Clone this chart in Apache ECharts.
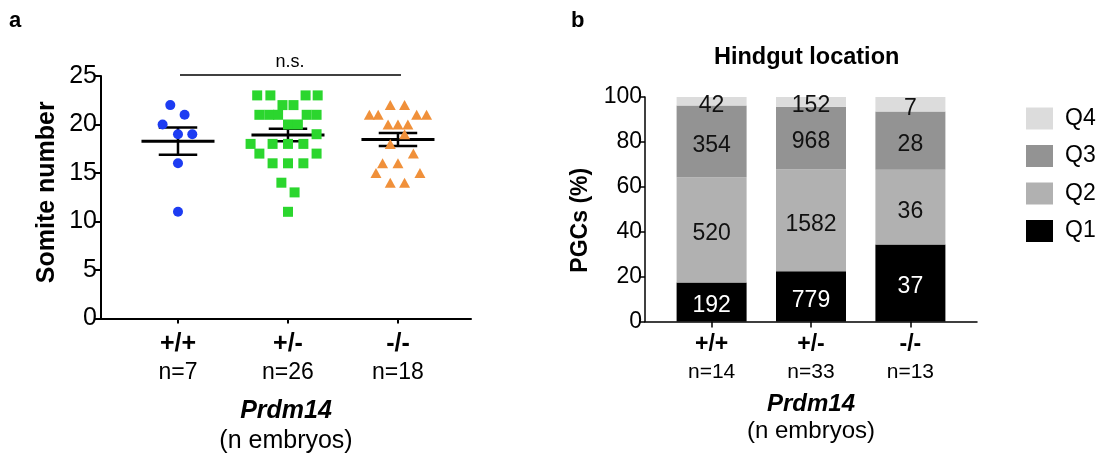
<!DOCTYPE html>
<html>
<head>
<meta charset="utf-8">
<script src="https://cdn.jsdelivr.net/npm/echarts@6/dist/echarts.min.js"></script>
<style>
html,body{margin:0;padding:0;background:#fff;}
#chart{width:1105px;height:459px;}
</style>
</head>
<body>
<div id="chart"></div>
<script>
// ---------- data ----------
const genotypes = ['+/+', '+/-', '-/-'];
const somiteEmbryoN = [7, 26, 18];
const pgcEmbryoN = [14, 33, 13];

// Panel a: somite numbers per embryo, with horizontal jitter (in category units)
const wtSomites  = [22, 21, 20, 19, 19, 16, 11];
const wtJitter   = [-0.07, 0.06, -0.14, 0, 0.13, 0, 0];
const hetSomites = [23, 23, 23, 23, 22, 22, 21, 21, 21, 21, 21, 20, 20, 19, 18, 18, 18, 18, 17, 17, 16, 16, 16, 14, 13, 11];
const hetJitter  = [-0.28, -0.16, 0.16, 0.27, -0.05, 0.05, -0.26, -0.17, -0.09, 0.17, 0.26, 0, 0.09, 0.26, -0.34, -0.14, 0, 0.14, -0.26, 0.26, -0.14, 0, 0.14, -0.06, 0.06, 0];
const koSomites  = [22, 22, 21, 21, 21, 21, 20, 20, 20, 19, 18, 17, 16, 16, 15, 15, 14, 14];
const koJitter   = [-0.07, 0.06, -0.26, -0.18, 0.17, 0.26, -0.09, 0, 0.09, 0.06, -0.07, 0.14, -0.14, 0, -0.2, 0.2, -0.07, 0.06];

// Panel b: PGC counts per hindgut quarter
const q1Counts = [192, 779, 37];
const q2Counts = [520, 1582, 36];
const q3Counts = [354, 968, 28];
const q4Counts = [42, 152, 7];

const quarterNames = ['Q1', 'Q2', 'Q3', 'Q4'];
const quarterColors = ['#000000', '#b1b1b1', '#939393', '#dcdcdc'];
const quarterLabelColors = ['#ffffff', '#111111', '#111111', '#111111'];

// ---------- helpers ----------
const FONT = "'Liberation Sans', Arial, Helvetica, sans-serif";
function toPoints(vals, jit, pos) { return vals.map((v, i) => [pos + jit[i], v]); }
function meanSem(vals) {
  const n = vals.length;
  const m = vals.reduce((a, b) => a + b, 0) / n;
  const sd = Math.sqrt(vals.reduce((a, b) => a + (b - m) * (b - m), 0) / (n - 1));
  return [m, sd / Math.sqrt(n)];
}
const groups = [wtSomites, hetSomites, koSomites];
const statData = groups.map((g, i) => { const s = meanSem(g); return [i + 1, s[0], s[1]]; });

const allCounts = [q1Counts, q2Counts, q3Counts, q4Counts];
const totals = genotypes.map((_, i) => allCounts.reduce((a, c) => a + c[i], 0));
// stacked percentages: [x, bottom%, top%, count]
const stacked = allCounts.map((counts, k) => counts.map((c, i) => {
  let below = 0;
  for (let j = 0; j < k; j++) below += allCounts[j][i];
  return [i + 1, below / totals[i] * 100, (below + c) / totals[i] * 100, c];
}));

const chart = echarts.init(document.getElementById('chart'), null, {renderer: 'canvas'});

const barSeries = quarterNames.map((q, k) => ({
  name: q,
  type: 'custom',
  xAxisIndex: 1, yAxisIndex: 1,
  itemStyle: {color: quarterColors[k]},
  data: stacked[k],
  renderItem: (params, api) => {
    const x = api.value(0);
    const b = api.coord([x, api.value(1)]);
    const t = api.coord([x, api.value(2)]);
    const hw = 35;
    return {type: 'group', children: [
      {type: 'rect', z2: 1, shape: {x: b[0] - hw, y: t[1], width: hw * 2, height: b[1] - t[1]}, style: {fill: quarterColors[k]}},
      {type: 'text', z2: 100, x: b[0], y: (b[1] + t[1]) / 2 + 4,
        style: {text: String(api.value(3)), fill: quarterLabelColors[k], fontSize: 23, fontFamily: FONT, textAlign: 'center', textVerticalAlign: 'middle'}}
    ]};
  }
}));

const option = {
  animation: false,
  backgroundColor: '#ffffff',
  textStyle: {fontFamily: FONT},
  title: [
    {text: 'a', left: 9, top: 10, padding: 0, textStyle: {fontSize: 22, fontWeight: 'bold', color: '#000', fontFamily: FONT}},
    {text: 'b', left: 571, top: 10, padding: 0, textStyle: {fontSize: 22, fontWeight: 'bold', color: '#000', fontFamily: FONT}},
    {text: 'Hindgut location', left: 714, top: 46, padding: 0, textStyle: {fontSize: 23.5, fontWeight: 'bold', color: '#000', fontFamily: FONT}}
  ],
  legend: {
    data: ['Q4', 'Q3', 'Q2', 'Q1'],
    orient: 'vertical',
    left: 1026, top: 107,
    padding: 0,
    itemWidth: 27, itemHeight: 22, itemGap: 14.5,
    icon: 'rect',
    selectedMode: false,
    textStyle: {fontSize: 23, color: '#000', fontFamily: FONT, padding: [0, 0, 0, 7]}
  },
  grid: [
    {left: 101, top: 76, width: 370, height: 245},
    {left: 645, top: 97, width: 332, height: 224.5}
  ],
  xAxis: [
    {
      type: 'value', gridIndex: 0, min: 0.3, max: 3.664,
      splitLine: {show: false},
      axisLine: {show: true, lineStyle: {color: '#000', width: 2}},
      axisTick: {show: true, customValues: [1, 2, 3], length: 5, lineStyle: {color: '#000', width: 2}},
      axisLabel: {
        customValues: [1, 2, 3], margin: 12,
        formatter: v => '{g|' + genotypes[Math.round(v) - 1] + '}\n{n|n=' + somiteEmbryoN[Math.round(v) - 1] + '}',
        rich: {
          g: {fontSize: 25, fontWeight: 'bold', color: '#000', lineHeight: 28, fontFamily: FONT},
          n: {fontSize: 23, color: '#000', lineHeight: 28, fontFamily: FONT}
        }
      },
      name: '{p|Prdm14}\n{e|(n embryos)}',
      nameLocation: 'middle', nameGap: 78,
      nameTextStyle: {
        rich: {
          p: {fontSize: 25, fontWeight: 'bold', fontStyle: 'italic', color: '#000', lineHeight: 30, fontFamily: FONT},
          e: {fontSize: 25, color: '#000', lineHeight: 30, fontFamily: FONT}
        }
      }
    },
    {
      type: 'value', gridIndex: 1, min: 0.33, max: 3.67,
      splitLine: {show: false},
      axisLine: {show: true, lineStyle: {color: '#000', width: 1.5}},
      axisTick: {show: true, customValues: [1, 2, 3], length: 6, lineStyle: {color: '#000', width: 1.5}},
      axisLabel: {
        customValues: [1, 2, 3], margin: 10,
        formatter: v => '{g|' + genotypes[Math.round(v) - 1] + '}\n{n|n=' + pgcEmbryoN[Math.round(v) - 1] + '}',
        rich: {
          g: {fontSize: 23, fontWeight: 'bold', color: '#000', lineHeight: 27, fontFamily: FONT},
          n: {fontSize: 21, color: '#000', lineHeight: 27, fontFamily: FONT}
        }
      },
      name: '{p|Prdm14}\n{e|(n embryos)}',
      nameLocation: 'middle', nameGap: 69,
      nameTextStyle: {
        rich: {
          p: {fontSize: 24, fontWeight: 'bold', fontStyle: 'italic', color: '#000', lineHeight: 27, fontFamily: FONT},
          e: {fontSize: 24, color: '#000', lineHeight: 27, fontFamily: FONT}
        }
      }
    }
  ],
  yAxis: [
    {
      type: 'value', gridIndex: 0, min: 0, max: 25, interval: 5,
      splitLine: {show: false},
      axisLine: {show: true, lineStyle: {color: '#000', width: 2}},
      axisTick: {show: true, length: 6, lineStyle: {color: '#000', width: 2}},
      axisLabel: {fontSize: 25, color: '#000', margin: 4, fontFamily: FONT},
      name: 'Somite number', nameLocation: 'middle', nameGap: 41,
      nameTextStyle: {fontSize: 25, fontWeight: 'bold', color: '#000', fontFamily: FONT, padding: [0, 0, 0, 10]}
    },
    {
      type: 'value', gridIndex: 1, min: 0, max: 100, interval: 20,
      splitLine: {show: false},
      axisLine: {show: true, lineStyle: {color: '#000', width: 1.5}},
      axisTick: {show: true, length: 6, lineStyle: {color: '#000', width: 1.5}},
      axisLabel: {fontSize: 23, color: '#000', margin: 3, fontFamily: FONT},
      name: 'PGCs (%)', nameLocation: 'middle', nameGap: 53,
      nameTextStyle: {fontSize: 23, fontWeight: 'bold', color: '#000', fontFamily: FONT, padding: [0, 22, 0, 0]}
    }
  ],
  series: [
    {
      type: 'custom', xAxisIndex: 0, yAxisIndex: 0, z: 1,
      data: statData,
      renderItem: (params, api) => {
        const x = api.value(0), m = api.value(1), s = api.value(2);
        const c = api.coord([x, m]);
        const hi = api.coord([x, m + s]);
        const lo = api.coord([x, m - s]);
        const w = api.size([0.332, 0])[0];
        const cw = api.size([0.175, 0])[0];
        const st = {stroke: '#000', lineWidth: 2.5, fill: null};
        return {type: 'group', children: [
          {type: 'line', shape: {x1: c[0] - w, y1: c[1], x2: c[0] + w, y2: c[1]}, style: {stroke: '#000', lineWidth: 3}},
          {type: 'line', shape: {x1: hi[0], y1: hi[1], x2: lo[0], y2: lo[1]}, style: st},
          {type: 'line', shape: {x1: hi[0] - cw, y1: hi[1], x2: hi[0] + cw, y2: hi[1]}, style: st},
          {type: 'line', shape: {x1: lo[0] - cw, y1: lo[1], x2: lo[0] + cw, y2: lo[1]}, style: st}
        ]};
      }
    },
    {
      type: 'custom', xAxisIndex: 0, yAxisIndex: 0, z: 1,
      data: [[1, 3, 25]],
      renderItem: (params, api) => {
        const a = api.coord([api.value(0), api.value(2)]);
        const b = api.coord([api.value(1), api.value(2)]);
        const y = a[1] - 1;
        return {type: 'group', children: [
          {type: 'line', shape: {x1: a[0] + 2, y1: y, x2: b[0] + 3, y2: y}, style: {stroke: '#000', lineWidth: 1.5}},
          {type: 'text', x: (a[0] + b[0]) / 2 + 2, y: y - 4, style: {text: 'n.s.', fill: '#000', fontSize: 18, fontFamily: FONT, textAlign: 'center', textVerticalAlign: 'bottom'}}
        ]};
      }
    },
    {
      type: 'scatter', xAxisIndex: 0, yAxisIndex: 0, z: 3,
      symbol: 'circle', symbolSize: 10,
      itemStyle: {color: '#1d3cf2', opacity: 1},
      data: toPoints(wtSomites, wtJitter, 1)
    },
    {
      type: 'scatter', xAxisIndex: 0, yAxisIndex: 0, z: 3,
      symbol: 'rect', symbolSize: 10,
      itemStyle: {color: '#2bd62e', opacity: 1},
      data: toPoints(hetSomites, hetJitter, 2)
    },
    {
      type: 'scatter', xAxisIndex: 0, yAxisIndex: 0, z: 3,
      symbol: 'triangle', symbolSize: [11, 10],
      itemStyle: {color: '#f0903a', opacity: 1},
      data: toPoints(koSomites, koJitter, 3)
    }
  ].concat(barSeries)
};
chart.setOption(option);
</script>
</body>
</html>
